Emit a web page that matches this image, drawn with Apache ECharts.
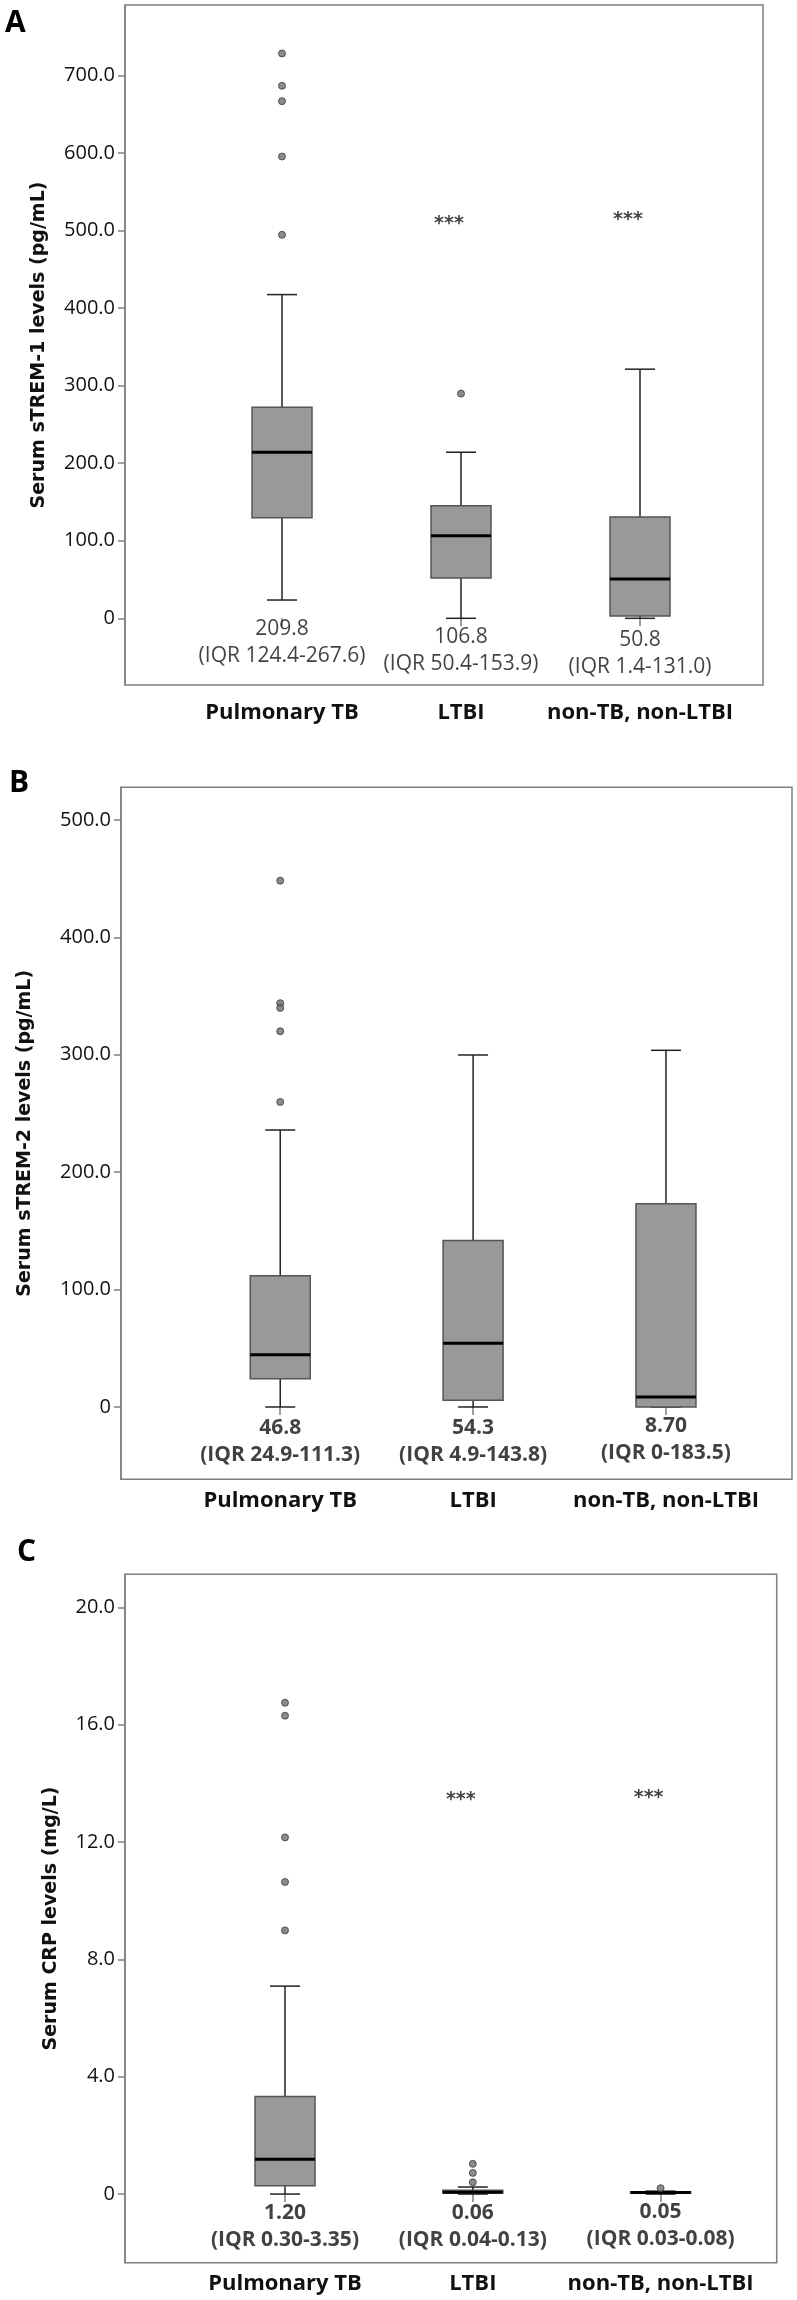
<!DOCTYPE html>
<html>
<head>
<meta charset="utf-8">
<script src="https://cdn.jsdelivr.net/npm/echarts@6/dist/echarts.min.js"></script>
<style>html,body{margin:0;padding:0;background:#fff;}#c{width:797px;height:2300px;}</style>
</head>
<body>
<div id="c"></div>
<script>
// ---------- data ----------
const categories = ['Pulmonary TB', 'LTBI', 'non-TB, non-LTBI'];

// Panel A: serum sTREM-1 (pg/mL) – [low whisker, Q1, median, Q3, high whisker]
const boxA = [[23.6, 129.8, 214.2, 272.3, 417.5], [0, 52, 106.6, 145.3, 214.2], [0, 3, 50.7, 130.7, 321.3]];
const outliersA = [[0, 728.5], [0, 686.8], [0, 667], [0, 595.6], [0, 494.6], [1, 289.8]];
const medianTextA = ['209.8', '106.8', '50.8'];
const iqrTextA = ['(IQR 124.4-267.6)', '(IQR 50.4-153.9)', '(IQR 1.4-131.0)'];
const annotYA = [-31, -42, -45];
const sigA = [[1, 509], [2, 514]];
const ticksA = [0, 100, 200, 300, 400, 500, 600, 700];

// Panel B: serum sTREM-2 (pg/mL)
const boxB = [[0, 24.1, 44.5, 111.8, 235.9], [0, 5.7, 54.2, 141.7, 299.8], [0, 0, 8.5, 173.2, 303.8]];
const outliersB = [[0, 448.3], [0, 343.9], [0, 339.9], [0, 320], [0, 259.8]];
const medianTextB = ['46.8', '54.3', '8.70'];
const iqrTextB = ['(IQR 24.9-111.3)', '(IQR 4.9-143.8)', '(IQR 0-183.5)'];
const annotYB = [-29, -29, -28];
const ticksB = [0, 100, 200, 300, 400, 500];

// Panel C: serum CRP (mg/L)
const boxC = [[0, 0.28, 1.19, 3.33, 7.09], [0, 0.04, 0.06, 0.13, 0.24], [0, 0.03, 0.05, 0.08, 0.1]];
const outliersC = [[0, 16.75], [0, 16.31], [0, 12.16], [0, 10.64], [0, 8.99], [1, 1.03], [1, 0.72], [1, 0.40], [2, 0.2]];
const medianTextC = ['1.20', '0.06', '0.05'];
const iqrTextC = ['(IQR 0.30-3.35)', '(IQR 0.04-0.13)', '(IQR 0.03-0.08)'];
const annotYC = [-1.1, -1.1, -1.08];
const sigC = [[1, 13.43], [2, 13.49]];
const ticksC = [0, 4, 8, 12, 16, 20];

// ---------- layout ----------
const panels = [
  { letter: 'A', lx: 5, ly: 8, title: 'Serum sTREM-1 levels (pg/mL)', nameGap: 76,
    frame: { left: 125, top: 5, width: 638, height: 680 },
    data: { left: 192.5, width: 537 }, min: -86, max: 791, ticks: ticksA,
    fmt: v => v === 0 ? '0' : v.toFixed(1), catMargin: 17, medBold: 'normal',
    box: boxA, out: outliersA, med: medianTextA, iqr: iqrTextA, ay: annotYA, sig: sigA },
  { letter: 'B', lx: 9, ly: 768, title: 'Serum sTREM-2 levels (pg/mL)', nameGap: 86,
    frame: { left: 121, top: 787.3, width: 671, height: 692 },
    data: { left: 183.8, width: 578.6 }, min: -61.6, max: 527.8, ticks: ticksB,
    fmt: v => v === 0 ? '0' : v.toFixed(1), catMargin: 10, medBold: 'bold',
    box: boxB, out: outliersB, med: medianTextB, iqr: iqrTextB, ay: annotYB, sig: [] },
  { letter: 'C', lx: 17, ly: 1537, title: 'Serum CRP levels (mg/L)', nameGap: 64,
    frame: { left: 125, top: 1574.3, width: 651.7, height: 688.4 },
    data: { left: 191.1, width: 563.4 }, min: -2.34, max: 21.13, ticks: ticksC,
    fmt: v => v === 0 ? '0' : v.toFixed(1), catMargin: 10, medBold: 'bold',
    box: boxC, out: outliersC, med: medianTextC, iqr: iqrTextC, ay: annotYC, sig: sigC }
];

const FONT = '"Open Sans", "Liberation Sans", sans-serif';
const frameColor = '#7f7f7f';

function renderBox(params, api) {
  const x = api.value(0);
  const low = api.coord([x, api.value(1)]);
  const q1 = api.coord([x, api.value(2)]);
  const med = api.coord([x, api.value(3)]);
  const q3 = api.coord([x, api.value(4)]);
  const high = api.coord([x, api.value(5)]);
  const cx = low[0], hw = 30, cw = 15;
  const ws = { stroke: '#222', lineWidth: 1.5 };
  return { type: 'group', children: [
    { type: 'line', shape: { x1: cx, y1: q3[1], x2: cx, y2: high[1] }, style: ws },
    { type: 'line', shape: { x1: cx, y1: q1[1], x2: cx, y2: low[1] }, style: ws },
    { type: 'line', shape: { x1: cx - cw, y1: high[1], x2: cx + cw, y2: high[1] }, style: ws },
    { type: 'line', shape: { x1: cx - cw, y1: low[1], x2: cx + cw, y2: low[1] }, style: ws },
    { type: 'rect', shape: { x: cx - hw, y: q3[1], width: 2 * hw, height: Math.max(q1[1] - q3[1], 0.5) },
      style: { fill: '#999999', stroke: '#555555', lineWidth: 1.5 } },
    { type: 'line', shape: { x1: cx - hw, y1: med[1], x2: cx + hw, y2: med[1] }, style: { stroke: '#000', lineWidth: 3 } }
  ]};
}

const option = { animation: false, backgroundColor: '#fff', title: [], grid: [], xAxis: [], yAxis: [], series: [] };

panels.forEach((p, k) => {
  const fg = 2 * k, dg = 2 * k + 1;
  option.title.push({ text: p.letter, left: p.lx, top: p.ly, padding: 0,
    textStyle: { fontFamily: FONT, fontSize: 30, fontWeight: 'bold', color: '#000' } });
  option.grid.push({ left: p.frame.left, top: p.frame.top, width: p.frame.width, height: p.frame.height,
    show: true, borderColor: frameColor, borderWidth: 1.5, backgroundColor: 'transparent' });
  option.grid.push({ left: p.data.left, top: p.frame.top, width: p.data.width, height: p.frame.height });
  // frame grid axes
  option.xAxis.push({ type: 'value', gridIndex: fg, show: false, min: 0, max: 1 });
  option.yAxis.push({ type: 'value', gridIndex: fg, min: p.min, max: p.max,
    name: p.title, nameLocation: 'middle', nameGap: p.nameGap,
    nameTextStyle: { fontFamily: '"DejaVu Sans", sans-serif', fontWeight: 'bold', fontSize: 19, color: '#111' },
    axisLine: { show: true, lineStyle: { color: frameColor, width: 1.5 } },
    axisTick: { show: true, length: 7, customValues: p.ticks, lineStyle: { color: frameColor, width: 1.5 } },
    axisLabel: { customValues: p.ticks, formatter: p.fmt, margin: 10, fontFamily: FONT, fontSize: 20, color: '#111' },
    splitLine: { show: false } });
  // data grid axes
  option.xAxis.push({ type: 'category', gridIndex: dg, data: categories,
    axisLine: { show: false },
    axisTick: { show: true, alignWithLabel: true, length: 8, lineStyle: { color: frameColor, width: 1.5 } },
    axisLabel: { margin: p.catMargin, fontFamily: FONT, fontSize: 22, fontWeight: 'bold', color: '#111', interval: 0 } });
  option.yAxis.push({ type: 'value', gridIndex: dg, show: false, min: p.min, max: p.max });

  option.series.push({ type: 'custom', xAxisIndex: dg, yAxisIndex: dg, renderItem: renderBox,
    encode: { x: 0, y: [1, 2, 3, 4, 5] }, clip: false,
    data: p.box.map((b, i) => [i].concat(b)) });
  option.series.push({ type: 'scatter', xAxisIndex: dg, yAxisIndex: dg, symbol: 'circle', symbolSize: 7,
    itemStyle: { color: '#6e6e6e', borderColor: '#3a3a3a', borderWidth: 1 }, data: p.out });
  option.series.push({ type: 'scatter', xAxisIndex: dg, yAxisIndex: dg, symbolSize: 0, silent: true,
    data: p.ay.map((y, i) => [i, y]),
    label: { show: true, position: 'inside', fontFamily: FONT, fontSize: 21, lineHeight: 27,
      fontWeight: p.medBold, color: '#111', align: 'center',
      formatter: prm => p.med[prm.dataIndex] + '\n' + p.iqr[prm.dataIndex] } });
  if (p.sig.length) {
    option.series.push({ type: 'scatter', xAxisIndex: dg, yAxisIndex: dg, symbolSize: 0, silent: true,
      data: p.sig,
      label: { show: true, position: 'inside', offset: [-12, 0], formatter: '***',
        fontFamily: '"DejaVu Sans", sans-serif', fontSize: 19, fontWeight: 'bold', color: '#111' } });
  }
});

const chart = echarts.init(document.getElementById('c'), null, { renderer: 'canvas' });
chart.setOption(option);
</script>
</body>
</html>
